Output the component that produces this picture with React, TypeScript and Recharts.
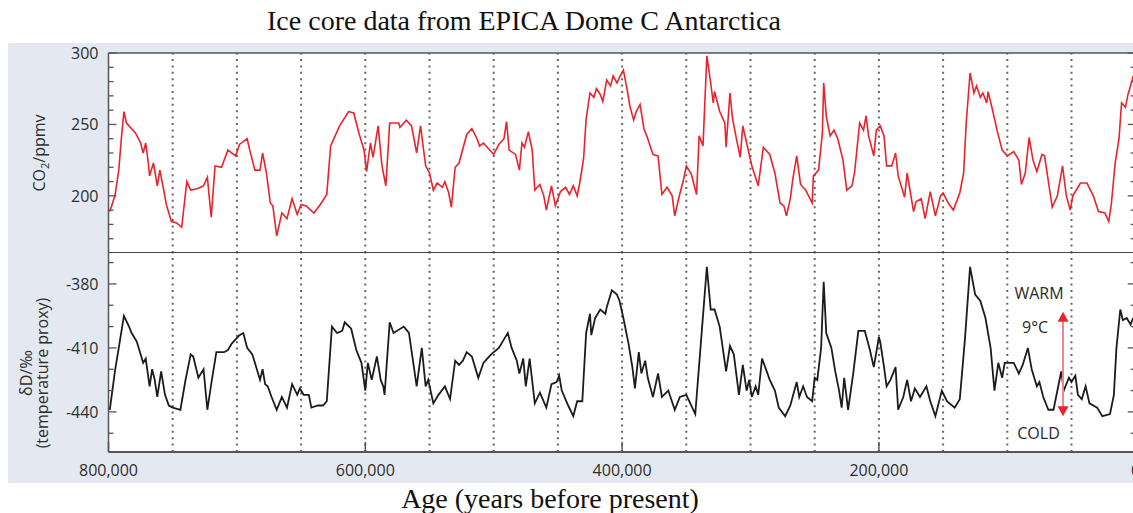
import React from 'react';
import { LineChart, Line, XAxis, YAxis, ReferenceLine, CartesianGrid } from 'recharts';

// EPICA Dome C: age in thousands of years before present, CO2 in ppmv
const co2Samples: [number, number][] = [
  [799, 189], [795, 200], [792, 218], [790, 240], [788, 259], [786, 251], [782, 247], [779, 244],
  [775, 237], [773, 230], [771, 237], [769, 223], [768, 214], [765, 223], [762, 207], [760, 218],
  [757, 204], [755, 194], [751, 182], [747, 181], [743, 178], [739, 210], [736, 204], [731, 205],
  [726, 207], [723, 213], [720, 185], [717, 221], [712, 220], [707, 232], [701, 228], [698, 236],
  [692, 240], [690, 232], [686, 218], [682, 218], [680, 230], [677, 216], [674, 195], [672, 193],
  [669, 172], [665, 188], [661, 184], [657, 198], [653, 187], [650, 194], [646, 193], [640, 188],
  [635, 194], [630, 201], [627, 235], [620, 249], [613, 259], [609, 258], [605, 244], [601, 232],
  [599, 217], [596, 237], [594, 227], [590, 249], [587, 221], [584, 207], [581, 251], [574, 251],
  [573, 248], [568, 253], [564, 249], [560, 230], [557, 249], [553, 221], [550, 216], [547, 204],
  [544, 209], [540, 206], [538, 210], [535, 202], [533, 192], [530, 220], [527, 223], [521, 243],
  [517, 247], [513, 240], [511, 235], [508, 237], [500, 229], [496, 236], [492, 240], [490, 252],
  [488, 232], [483, 229], [480, 218], [478, 237], [476, 234], [473, 245], [470, 232], [468, 204],
  [464, 208], [461, 200], [459, 190], [455, 207], [452, 193], [448, 203], [444, 206], [441, 201],
  [438, 207], [435, 200], [433, 209], [430, 226], [428, 254], [425, 272], [422, 269], [420, 275],
  [417, 271], [415, 266], [412, 281], [409, 277], [407, 284], [404, 279], [402, 283], [399, 288],
  [396, 274], [394, 263], [391, 253], [389, 259], [386, 264], [383, 247], [380, 240], [376, 229],
  [372, 228], [369, 201], [365, 206], [361, 200], [359, 186], [356, 198], [352, 212], [350, 221],
  [346, 215], [342, 201], [340, 242], [337, 235], [334, 298], [331, 279], [329, 265], [328, 273],
  [324, 259], [320, 251], [319, 234], [316, 272], [314, 254], [311, 240], [308, 227], [306, 249],
  [303, 237], [299, 221], [294, 207], [290, 234], [285, 229], [281, 216], [277, 195], [274, 193],
  [272, 186], [269, 198], [267, 212], [264, 228], [261, 208], [257, 204], [252, 195], [251, 214],
  [247, 218], [244, 244], [243, 279], [241, 256], [238, 242], [235, 246], [232, 240], [228, 225],
  [225, 204], [221, 207], [219, 216], [215, 251], [212, 246], [210, 256], [208, 242], [204, 228],
  [202, 246], [199, 249], [196, 242], [194, 221], [190, 221], [187, 230], [185, 214], [180, 199],
  [178, 216], [173, 189], [171, 196], [167, 198], [164, 184], [160, 203], [156, 186], [152, 200],
  [150, 202], [146, 195], [142, 190], [137, 202], [134, 216], [132, 251], [129, 286], [126, 272],
  [124, 277], [121, 269], [119, 272], [116, 265], [115, 273], [112, 262], [108, 246], [104, 232],
  [100, 228], [95, 231], [91, 225], [89, 208], [86, 216], [83, 241], [80, 225], [77, 217],
  [73, 229], [71, 228], [65, 192], [61, 200], [57, 221], [54, 200], [51, 190], [49, 200],
  [43, 209], [38, 209], [33, 200], [29, 189], [24, 188], [21, 182], [19, 194], [16, 223],
  [13, 240], [11, 265], [8, 262], [6, 271], [3, 280], [2, 284],
];

// Deuterium (temperature proxy), δD in per mil
const deutSamples: [number, number][] = [
  [799, -439], [795, -421], [792, -410], [788, -395], [784, -400], [782, -403], [778, -407], [775, -413],
  [773, -417], [771, -415], [768, -428], [766, -420], [764, -425], [762, -433], [759, -421], [756, -432],
  [753, -437], [750, -438], [744, -439], [740, -425], [736, -413], [734, -414], [730, -424], [726, -420],
  [723, -439], [720, -427], [716, -412], [710, -412], [707, -411], [704, -408], [701, -406], [698, -404],
  [695, -403], [692, -410], [688, -413], [685, -419], [682, -425], [680, -420], [678, -427], [676, -428],
  [673, -433], [669, -439], [665, -433], [661, -438], [657, -427], [653, -432], [651, -429], [648, -432],
  [644, -432], [642, -438], [637, -437], [633, -437], [630, -435], [626, -400], [622, -403], [618, -402],
  [616, -398], [611, -401], [607, -411], [603, -417], [600, -430], [598, -417], [595, -425], [591, -414],
  [588, -425], [586, -428], [585, -432], [581, -398], [578, -403], [570, -400], [566, -403], [560, -428],
  [556, -410], [553, -428], [551, -425], [547, -436], [543, -432], [538, -428], [534, -434], [530, -416],
  [527, -418], [524, -416], [521, -412], [517, -414], [512, -424], [508, -417], [505, -415], [502, -413],
  [496, -410], [492, -406], [489, -403], [486, -410], [482, -416], [480, -422], [477, -415], [475, -428],
  [472, -415], [468, -436], [464, -431], [459, -438], [455, -427], [451, -426], [449, -423], [447, -430],
  [442, -437], [438, -442], [435, -435], [431, -435], [428, -403], [425, -394], [424, -404], [421, -396],
  [417, -392], [413, -394], [412, -391], [408, -383], [404, -385], [402, -388], [399, -396], [398, -399],
  [395, -408], [392, -419], [390, -429], [387, -412], [385, -422], [382, -416], [380, -424], [376, -433],
  [372, -422], [369, -433], [364, -430], [359, -439], [355, -433], [350, -432], [343, -441], [334, -372],
  [331, -392], [328, -392], [324, -400], [319, -421], [316, -409], [313, -413], [309, -432], [306, -418],
  [303, -430], [301, -425], [299, -433], [296, -428], [294, -432], [291, -415], [285, -425], [281, -430],
  [278, -438], [273, -442], [269, -437], [264, -426], [262, -433], [259, -428], [256, -433], [252, -435],
  [250, -424], [248, -425], [245, -410], [243, -379], [241, -403], [237, -410], [234, -421], [231, -430],
  [229, -438], [227, -424], [224, -439], [220, -422], [216, -402], [211, -402], [207, -411], [204, -419],
  [200, -405], [199, -407], [196, -419], [194, -428], [191, -425], [187, -419], [185, -439], [181, -433],
  [178, -425], [175, -435], [172, -429], [168, -433], [163, -428], [160, -435], [156, -442], [151, -430],
  [147, -435], [141, -438], [137, -434], [133, -406], [129, -372], [125, -385], [121, -388], [117, -396],
  [113, -410], [110, -430], [107, -417], [104, -424], [102, -417], [95, -417], [91, -422], [88, -418],
  [84, -410], [81, -420], [77, -428], [75, -426], [72, -433], [68, -439], [64, -439], [58, -421],
  [56, -430], [52, -424], [50, -426], [47, -423], [45, -432], [42, -434], [39, -428], [36, -436],
  [30, -438], [26, -442], [20, -441], [17, -432], [15, -410], [12, -392], [10, -397], [7, -396],
  [4, -399], [2, -396],
];

const ageTicks = [0, 50, 100, 150, 200, 250, 300, 350, 400, 450, 500, 550, 600, 650, 700, 750, 800];
const ageLabelTicks = [0, 200, 400, 600, 800];
const gridAges = [50, 100, 150, 200, 250, 300, 350, 400, 450, 500, 550, 600, 650, 700, 750];
const co2Ticks = [170, 180, 190, 200, 210, 220, 230, 240, 250, 260, 270, 280, 290, 300];
const co2LabelTicks = [200, 250, 300];
const deutTicks = [-450, -440, -430, -420, -410, -400, -390, -380, -370];
const deutLabelTicks = [-440, -410, -380];
const co2Domain: [number, number] = [160, 300];
const deutDomain: [number, number] = [-458.8, -365.5];
// 9 °C warm/cold span marker
const spanAge = 56.6;
const spanWarm = -393;
const spanCold = -442;

const co2Data = co2Samples.map(([age, ppmv]) => ({ age, ppmv }));
const deutData = deutSamples.map(([age, dD]) => ({ age, dD }));

const SANS = '"Open Sans", "DejaVu Sans", sans-serif';
const SERIF = '"Liberation Serif", "Times New Roman", serif';
const AXIS = '#555';
const RED = '#e8232c';
const W = 1140;
const MARGIN_L = 8.5;
const AXIS_W = 100;

function makeLeftTick(labels: number[]) {
  return (props: any) => {
    const { x, y, payload } = props;
    const v = payload.value;
    const major = labels.includes(v);
    return (
      <g>
        <line x1={x} x2={x + (major ? 8 : 5)} y1={y} y2={y} stroke={AXIS} strokeWidth={1.3} />
        {major && (
          <text x={x - 10} y={y} dy="0.36em" textAnchor="end" fontFamily={SANS} fontSize={16} fill="#2e2e2e">
            {v}
          </text>
        )}
      </g>
    );
  };
}

function makeRightTick(labels: number[]) {
  return (props: any) => {
    const { x, y, payload } = props;
    const major = labels.includes(payload.value);
    return <line x1={x} x2={x - (major ? 8 : 5)} y1={y} y2={y} stroke={AXIS} strokeWidth={1.3} />;
  };
}

function AgeTick(props: any) {
  const { x, y, payload } = props;
  const v = payload.value;
  if (!ageLabelTicks.includes(v)) return <g />;
  return (
    <g>
      <line x1={x} x2={x} y1={y} y2={y - 10} stroke={AXIS} strokeWidth={1.5} />
      <text x={x} y={y + 24} textAnchor="middle" fontFamily={SANS} fontSize={16} fill="#2e2e2e">
        {(v * 1000).toLocaleString('en-US')}
      </text>
    </g>
  );
}

function SpanArrow(props: any) {
  const { x1, y1, y2 } = props;
  const top = Math.min(y1, y2);
  const bot = Math.max(y1, y2);
  const txt = { fontFamily: SANS, fontSize: 16, fill: '#2a2a2a', textAnchor: 'middle' as const };
  return (
    <g>
      <line x1={x1} x2={x1} y1={top + 8} y2={bot - 8} stroke="#f08888" strokeWidth={2} />
      <polygon points={`${x1},${top} ${x1 - 5.5},${top + 10} ${x1 + 5.5},${top + 10}`} fill={RED} />
      <polygon points={`${x1},${bot} ${x1 - 5.5},${bot - 10} ${x1 + 5.5},${bot - 10}`} fill={RED} />
      <text x={x1 - 24} y={top - 18} dy="0.36em" {...txt}>WARM</text>
      <text x={x1 - 28} y={top + 16} dy="0.36em" {...txt}>9°C</text>
      <text x={x1 - 24.5} y={bot + 17} dy="0.36em" {...txt}>COLD</text>
    </g>
  );
}

export default function App() {
  return (
    <div style={{ position: 'fixed', left: 0, top: 0, width: 1133, height: 513, overflow: 'hidden', background: '#fff' }}>
      <div style={{ position: 'absolute', left: 8, top: 43, width: 1140, height: 440, background: '#e4e9f1' }} />
      <div
        style={{
          position: 'absolute', left: 0, top: 7, width: 1048, textAlign: 'center',
          fontFamily: SERIF, fontSize: 28, lineHeight: '28px', color: '#111', whiteSpace: 'nowrap',
        }}
      >
        Ice core data from EPICA Dome C Antarctica
      </div>
      <div
        style={{
          position: 'absolute', left: 0, top: 485, width: 1100, textAlign: 'center',
          fontFamily: SERIF, fontSize: 28, lineHeight: '28px', color: '#111', whiteSpace: 'nowrap',
        }}
      >
        Age (years before present)
      </div>

      <div style={{ position: 'absolute', left: 0, top: 0 }}>
        <LineChart width={W} height={258} data={co2Data} margin={{ top: 53, right: 3.3, bottom: 5, left: MARGIN_L }}>
          <CartesianGrid fill="#ffffff" fillOpacity={1} horizontal={false} vertical={false} />
          <XAxis dataKey="age" type="number" domain={[0, 800]} reversed hide ticks={ageTicks} allowDataOverflow />
          <YAxis
            yAxisId="l" orientation="left" width={AXIS_W} domain={co2Domain} ticks={co2Ticks} interval={0}
            tickSize={0} tickMargin={0} tickLine={false} axisLine={{ stroke: AXIS, strokeWidth: 1.5 }}
            tick={makeLeftTick(co2LabelTicks)} allowDataOverflow
          />
          <YAxis
            yAxisId="r" orientation="right" width={1} domain={co2Domain} ticks={co2Ticks} interval={0}
            tickSize={0} tickMargin={0} tickLine={false} axisLine={{ stroke: AXIS, strokeWidth: 1.5 }}
            tick={makeRightTick(co2LabelTicks)} allowDataOverflow
          />
          {gridAges.map((a) => (
            <ReferenceLine key={a} yAxisId="l" x={a} stroke="#666" strokeWidth={2} strokeDasharray="2 4.4" />
          ))}
          <ReferenceLine yAxisId="l" y={300} stroke={AXIS} strokeWidth={1.5} />
          <ReferenceLine yAxisId="l" y={160} stroke="#444" strokeWidth={2} />
          <Line
            yAxisId="l" dataKey="ppmv" type="linear" stroke={RED} strokeWidth={1.6} dot={false}
            isAnimationActive={false}
          />
        </LineChart>
      </div>

      <div style={{ position: 'absolute', left: 0, top: 253 }}>
        <LineChart width={W} height={230} data={deutData} margin={{ top: 0, right: 3.3, bottom: 0, left: MARGIN_L }}>
          <CartesianGrid fill="#ffffff" fillOpacity={1} horizontal={false} vertical={false} />
          <XAxis
            dataKey="age" type="number" domain={[0, 800]} reversed ticks={ageTicks} interval={0} height={31}
            tickSize={0} tickMargin={0} tickLine={false} axisLine={{ stroke: AXIS, strokeWidth: 2 }}
            tick={AgeTick} allowDataOverflow
          />
          <YAxis
            yAxisId="l" orientation="left" width={AXIS_W} domain={deutDomain} ticks={deutTicks} interval={0}
            tickSize={0} tickMargin={0} tickLine={false} axisLine={{ stroke: AXIS, strokeWidth: 1.5 }}
            tick={makeLeftTick(deutLabelTicks)} allowDataOverflow
          />
          <YAxis
            yAxisId="r" orientation="right" width={1} domain={deutDomain} ticks={deutTicks} interval={0}
            tickSize={0} tickMargin={0} tickLine={false} axisLine={{ stroke: AXIS, strokeWidth: 1.5 }}
            tick={makeRightTick(deutLabelTicks)} allowDataOverflow
          />
          {gridAges.map((a) => (
            <ReferenceLine key={a} yAxisId="l" x={a} stroke="#666" strokeWidth={2} strokeDasharray="2 4.4" />
          ))}
          <Line
            yAxisId="l" dataKey="dD" type="linear" stroke="#1c1c1c" strokeWidth={1.8} dot={false}
            isAnimationActive={false}
          />
          <ReferenceLine
            yAxisId="l"
            segment={[{ x: spanAge, y: spanWarm }, { x: spanAge, y: spanCold }]}
            shape={SpanArrow}
          />
        </LineChart>
      </div>

      <svg width={1133} height={513} style={{ position: 'absolute', left: 0, top: 0, pointerEvents: 'none' }}>
        <text transform="translate(45,153) rotate(-90)" textAnchor="middle" fontFamily={SANS} fontSize={16} fill="#2e2e2e">
          CO<tspan fontSize={11} dy={4}>2</tspan><tspan dy={-4}>/ppmv</tspan>
        </text>
        <text transform="translate(32,373) rotate(-90)" textAnchor="middle" fontFamily={SANS} fontSize={16} fill="#2e2e2e">
          δD/‰
        </text>
        <text transform="translate(48,373) rotate(-90)" textAnchor="middle" fontFamily={SANS} fontSize={16} fill="#2e2e2e">
          (temperature proxy)
        </text>
      </svg>
    </div>
  );
}
